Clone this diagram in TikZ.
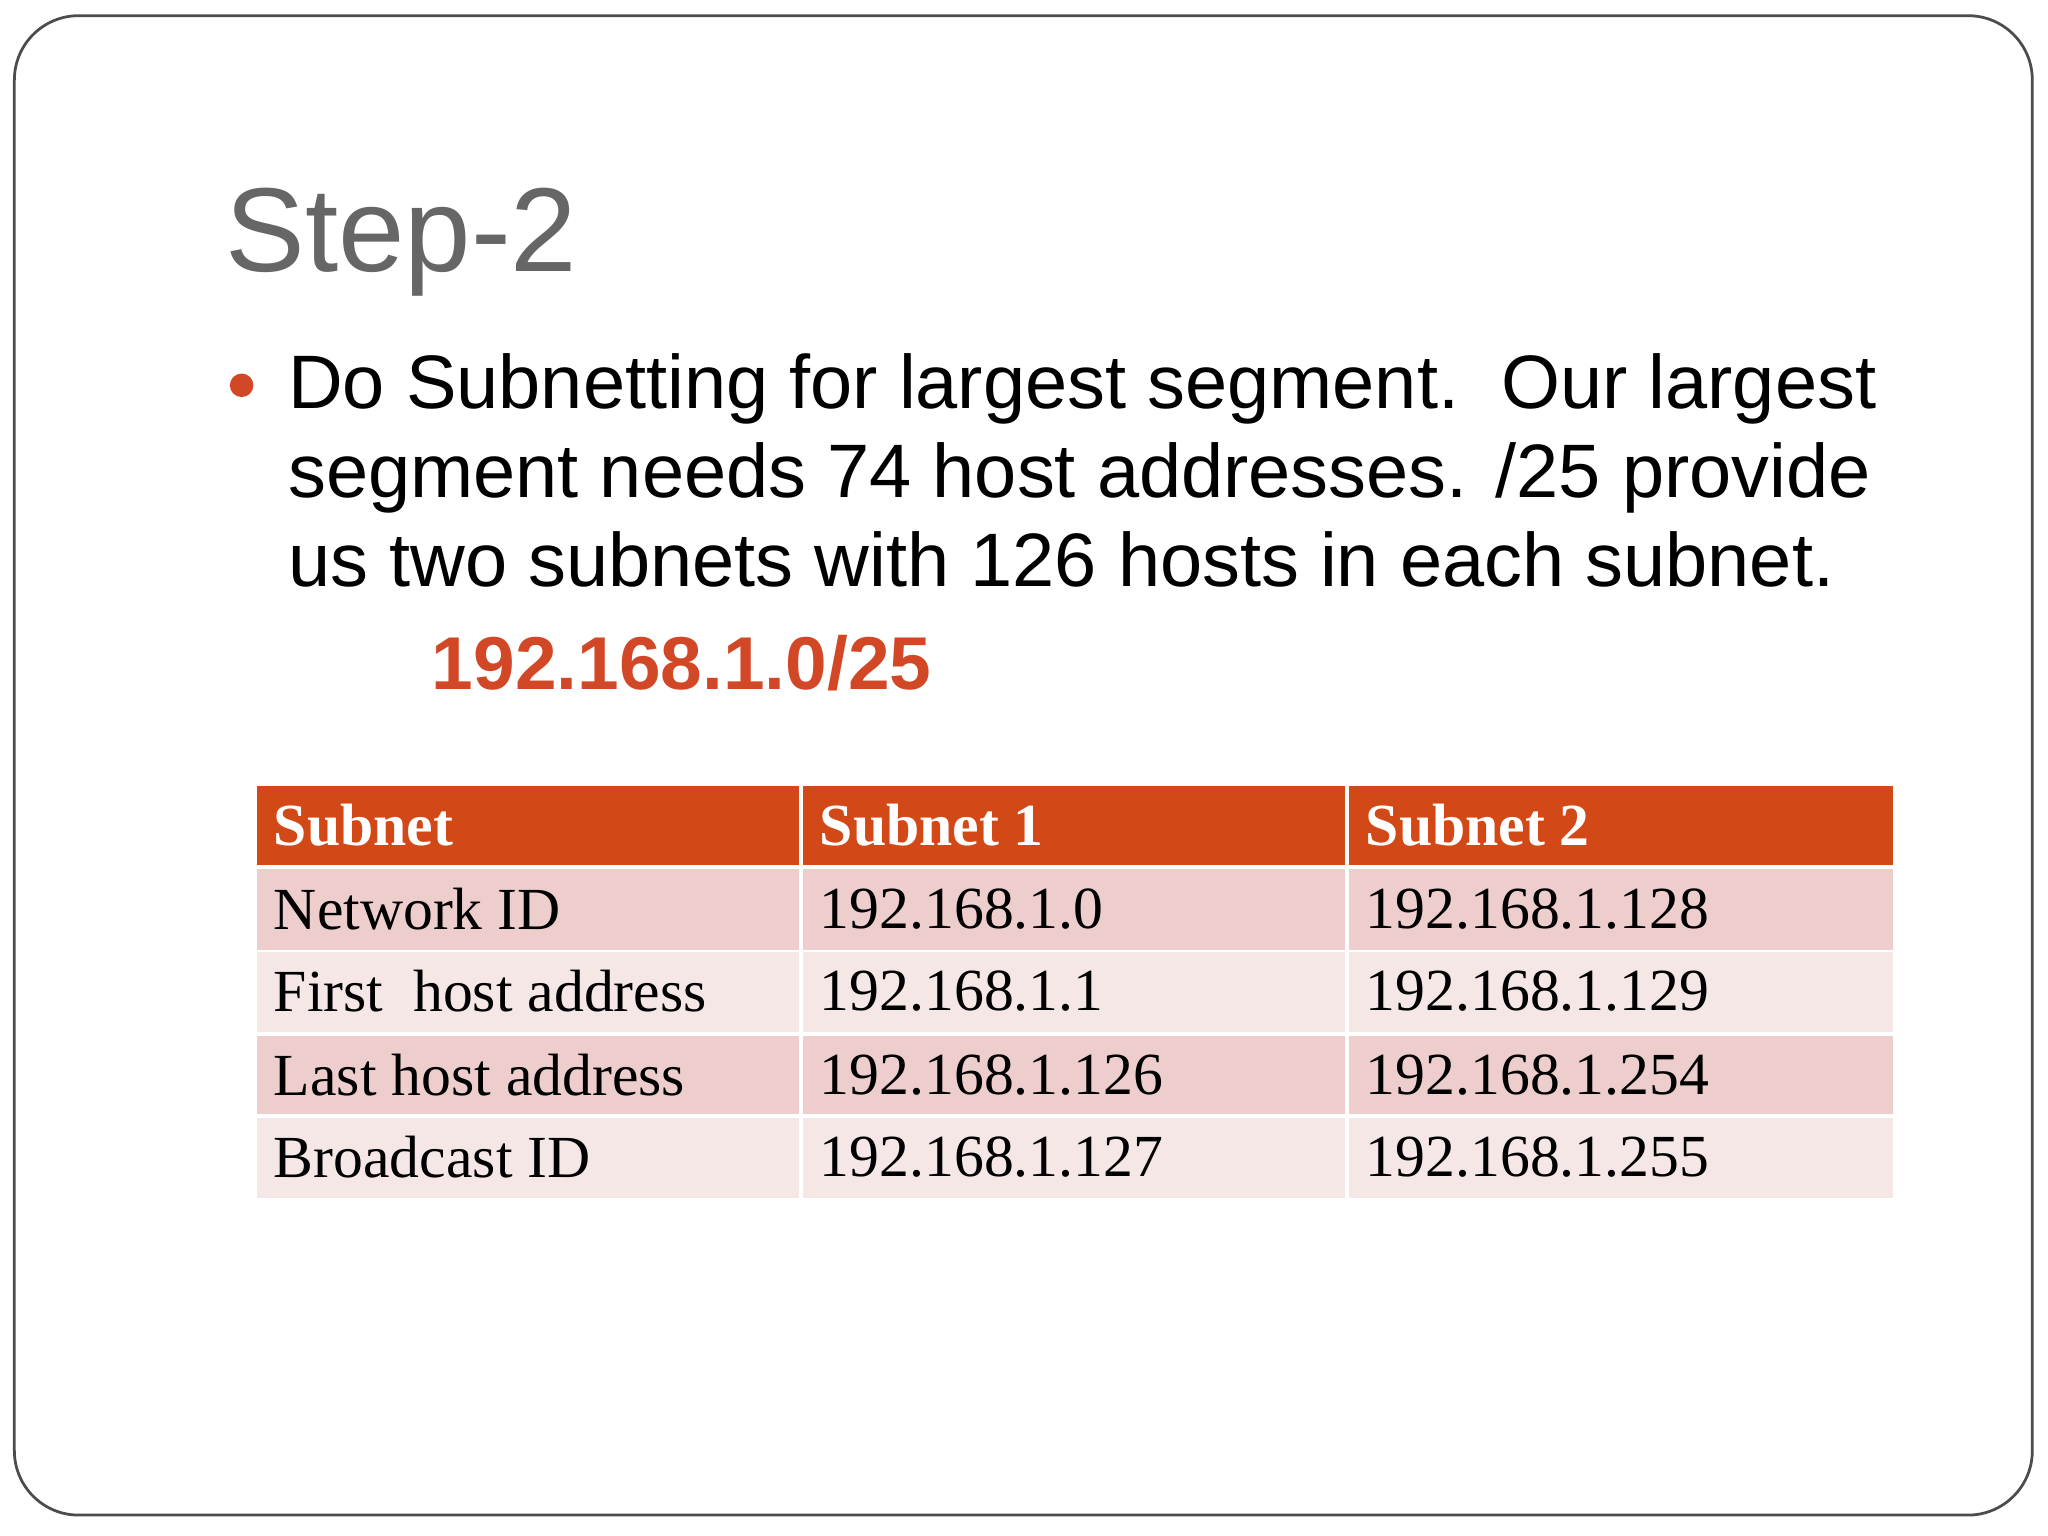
\documentclass[tikz,border=0pt]{standalone}
\usepackage{fontspec}
\setmainfont{Liberation Serif}
\newfontfamily\sansf{Liberation Sans}
\definecolor{orng}{HTML}{D24726}
\definecolor{hdr}{HTML}{D34817}
\definecolor{rowa}{HTML}{EDCECD}
\definecolor{rowb}{HTML}{F6E7E7}
\definecolor{ttl}{HTML}{666666}
\tikzset{cell/.style={anchor=west,inner sep=0,font=\fontsize{13}{15}\selectfont},
hcell/.style={anchor=west,inner sep=0,text=white,font=\fontsize{13}{15}\selectfont\bfseries},
bodyline/.style={anchor=base west,inner sep=0,font=\sansf\fontsize{16.5}{19}\selectfont}}
\begin{document}
\begin{tikzpicture}[x=0.01cm,y=-0.01cm]
\useasboundingbox (0,0) rectangle (1568,1176);
\fill[white] (0,0) rectangle (1568,1176);
\draw[black!70,line width=0.6pt,rounded corners=14pt] (11,12) rectangle (1556,1160);
\node[anchor=base west,text=ttl,font=\sansf\fontsize{26}{30}\selectfont,inner sep=0] (title) at (172,208) {Step-2};
\fill[orng] (185,295) circle (9);
\node[bodyline] (l1) at (220,313) {Do Subnetting for largest segment.\ \ Our largest};
\node[bodyline] (l2) at (220,381) {segment needs 74 host addresses. /25 provide};
\node[bodyline] (l3) at (220,449) {us two subnets with 126 hosts in each subnet.};
\node[anchor=base west,text=orng,font=\sansf\bfseries\fontsize{16.3}{20}\selectfont,inner sep=0] (net) at (330,528) {192.168.1.0/25};
% table
\fill[hdr] (197,602) rectangle (1449,662);
\fill[white] (612,602) rectangle (615,662);
\fill[white] (1030,602) rectangle (1033,662);
\foreach \ya/\yb/\c in {665/727/rowa,729/790/rowb,793/853/rowa,856/917/rowb}{
 \fill[\c] (197,\ya) rectangle (612,\yb);
 \fill[\c] (615,\ya) rectangle (1030,\yb);
 \fill[\c] (1033,\ya) rectangle (1449,\yb);
}
\node[hcell] (h0) at (209,632) {Subnet};
\node[hcell] (h1) at (627,632) {Subnet 1};
\node[hcell] (h2) at (1045,632) {Subnet 2};
\node[cell] (a0) at (209,696) {Network ID};
\node[cell] (a1) at (627,696) {192.168.1.0};
\node[cell] (a2) at (1045,696) {192.168.1.128};
\node[cell] (b0) at (209,759) {First\ \ host address};
\node[cell] (b1) at (627,759) {192.168.1.1};
\node[cell] (b2) at (1045,759) {192.168.1.129};
\node[cell] (c0) at (209,823) {Last host address};
\node[cell] (c1) at (627,823) {192.168.1.126};
\node[cell] (c2) at (1045,823) {192.168.1.254};
\node[cell] (d0) at (209,886) {Broadcast ID};
\node[cell] (d1) at (627,886) {192.168.1.127};
\node[cell] (d2) at (1045,886) {192.168.1.255};
\end{tikzpicture}
\end{document}
